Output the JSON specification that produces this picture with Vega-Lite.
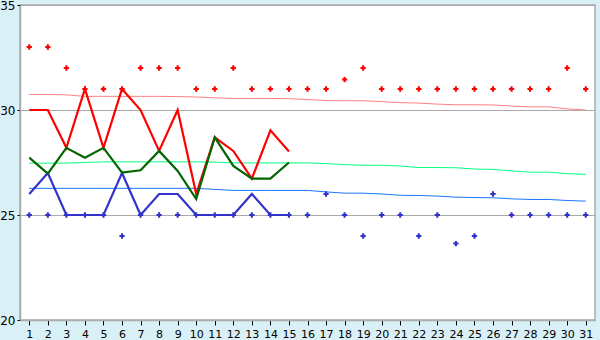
{
  "$schema": "https://vega.github.io/schema/vega-lite/v6.json",
  "autosize": "none",
  "width": 575,
  "height": 315,
  "padding": {"left": 20, "top": 5, "right": 5, "bottom": 20},
  "background": "#daf0f7",
  "view": {"fill": "white", "stroke": "#aaaaaa", "strokeWidth": 1.5},
  "config": {
    "axis": {"labelFont": "DejaVu Sans", "labelColor": "#000000", "tickColor": "#000000", "domainColor": "#aaaaaa", "domainWidth": 1.5, "gridColor": "#aaaaaa", "gridWidth": 1, "title": null}
  },
  "data": {"values": [
    {"d":1,"max":33,"min":25,"tmax":30,"tavg":27.73,"tmin":26,"nmax":30.74,"navg":27.47,"nmin":26.27},
    {"d":2,"max":33,"min":25,"tmax":30,"tavg":26.97,"tmin":27,"nmax":30.74,"navg":27.47,"nmin":26.27},
    {"d":3,"max":32,"min":25,"tmax":28.2,"tavg":28.2,"tmin":25,"nmax":30.72,"navg":27.47,"nmin":26.27},
    {"d":4,"max":31,"min":25,"tmax":31,"tavg":27.73,"tmin":25,"nmax":30.65,"navg":27.5,"nmin":26.27},
    {"d":5,"max":31,"min":25,"tmax":28.2,"tavg":28.2,"tmin":25,"nmax":30.65,"navg":27.53,"nmin":26.27},
    {"d":6,"max":31,"min":24,"tmax":31,"tavg":27.02,"tmin":27,"nmax":30.65,"navg":27.53,"nmin":26.27},
    {"d":7,"max":32,"min":25,"tmax":30,"tavg":27.13,"tmin":25,"nmax":30.65,"navg":27.53,"nmin":26.27},
    {"d":8,"max":32,"min":25,"tmax":28.05,"tavg":28.05,"tmin":26,"nmax":30.65,"navg":27.53,"nmin":26.27},
    {"d":9,"max":32,"min":25,"tmax":30,"tavg":27.1,"tmin":26,"nmax":30.64,"navg":27.53,"nmin":26.27},
    {"d":10,"max":31,"min":25,"tmax":26,"tavg":25.76,"tmin":25,"nmax":30.62,"navg":27.53,"nmin":26.27},
    {"d":11,"max":31,"min":25,"tmax":28.7,"tavg":28.7,"tmin":25,"nmax":30.58,"navg":27.52,"nmin":26.22},
    {"d":12,"max":32,"min":25,"tmax":28.05,"tavg":27.34,"tmin":25,"nmax":30.55,"navg":27.48,"nmin":26.17},
    {"d":13,"max":31,"min":25,"tmax":26.73,"tavg":26.73,"tmin":26,"nmax":30.55,"navg":27.48,"nmin":26.17},
    {"d":14,"max":31,"min":25,"tmax":29.03,"tavg":26.73,"tmin":25,"nmax":30.55,"navg":27.48,"nmin":26.17},
    {"d":15,"max":31,"min":25,"tmax":28.02,"tavg":27.5,"tmin":25,"nmax":30.54,"navg":27.48,"nmin":26.17},
    {"d":16,"max":31,"min":25,"tmax":null,"tavg":null,"tmin":null,"nmax":30.5,"navg":27.48,"nmin":26.17},
    {"d":17,"max":31,"min":26,"tmax":null,"tavg":null,"tmin":null,"nmax":30.45,"navg":27.45,"nmin":26.1},
    {"d":18,"max":31.45,"min":25,"tmax":null,"tavg":null,"tmin":null,"nmax":30.44,"navg":27.4,"nmin":26.04},
    {"d":19,"max":32,"min":24,"tmax":null,"tavg":null,"tmin":null,"nmax":30.44,"navg":27.37,"nmin":26.04},
    {"d":20,"max":31,"min":25,"tmax":null,"tavg":null,"tmin":null,"nmax":30.4,"navg":27.37,"nmin":26.0},
    {"d":21,"max":31,"min":25,"tmax":null,"tavg":null,"tmin":null,"nmax":30.35,"navg":27.33,"nmin":25.94},
    {"d":22,"max":31,"min":24,"tmax":null,"tavg":null,"tmin":null,"nmax":30.33,"navg":27.26,"nmin":25.93},
    {"d":23,"max":31,"min":25,"tmax":null,"tavg":null,"tmin":null,"nmax":30.28,"navg":27.26,"nmin":25.9},
    {"d":24,"max":31,"min":23.64,"tmax":null,"tavg":null,"tmin":null,"nmax":30.25,"navg":27.25,"nmin":25.85},
    {"d":25,"max":31,"min":24,"tmax":null,"tavg":null,"tmin":null,"nmax":30.25,"navg":27.19,"nmin":25.83},
    {"d":26,"max":31,"min":26,"tmax":null,"tavg":null,"tmin":null,"nmax":30.24,"navg":27.17,"nmin":25.82},
    {"d":27,"max":31,"min":25,"tmax":null,"tavg":null,"tmin":null,"nmax":30.19,"navg":27.1,"nmin":25.77},
    {"d":28,"max":31,"min":25,"tmax":null,"tavg":null,"tmin":null,"nmax":30.15,"navg":27.04,"nmin":25.74},
    {"d":29,"max":31,"min":25,"tmax":null,"tavg":null,"tmin":null,"nmax":30.15,"navg":27.04,"nmin":25.74},
    {"d":30,"max":32,"min":25,"tmax":null,"tavg":null,"tmin":null,"nmax":30.05,"navg":26.97,"nmin":25.69},
    {"d":31,"max":31,"min":25,"tmax":null,"tavg":null,"tmin":null,"nmax":30.0,"navg":26.93,"nmin":25.66}
  ]},
  "encoding": {
    "x": {"field": "d", "type": "quantitative",
      "scale": {"domain": [0.5, 31.5], "nice": false, "zero": false},
      "axis": {"values": [1,2,3,4,5,6,7,8,9,10,11,12,13,14,15,16,17,18,19,20,21,22,23,24,25,26,27,28,29,30,31], "grid": false, "tickSize": 5, "labelPadding": 3, "labelFontSize": 11, "labelFlush": false, "labelOverlap": false}}
  },
  "layer": [
    {"mark": {"type": "line", "color": "#ff8080", "strokeWidth": 1}, "encoding": {"y": {"field": "nmax", "type": "quantitative", "scale": {"domain": [20, 35], "nice": false, "zero": false}, "axis": {"values": [20, 25, 30, 35], "grid": true, "tickSize": 3, "labelPadding": 2, "labelFontSize": 12, "labelFlush": false}}}},
    {"mark": {"type": "line", "color": "#00ff80", "strokeWidth": 1}, "encoding": {"y": {"field": "navg", "type": "quantitative"}}},
    {"mark": {"type": "line", "color": "#1a75ff", "strokeWidth": 1}, "encoding": {"y": {"field": "nmin", "type": "quantitative"}}},
    {"mark": {"type": "line", "color": "#3333cc", "strokeWidth": 2.2}, "encoding": {"y": {"field": "tmin", "type": "quantitative"}}},
    {"mark": {"type": "line", "color": "#ff0000", "strokeWidth": 2.2}, "encoding": {"y": {"field": "tmax", "type": "quantitative"}}},
    {"mark": {"type": "line", "color": "#006600", "strokeWidth": 2.2}, "encoding": {"y": {"field": "tavg", "type": "quantitative"}}},
    {"mark": {"type": "point", "shape": "cross", "filled": true, "color": "#ff0000", "size": 28, "opacity": 1}, "encoding": {"y": {"field": "max", "type": "quantitative"}}},
    {"mark": {"type": "point", "shape": "cross", "filled": true, "color": "#3333cc", "size": 28, "opacity": 1}, "encoding": {"y": {"field": "min", "type": "quantitative"}}}
  ]
}
